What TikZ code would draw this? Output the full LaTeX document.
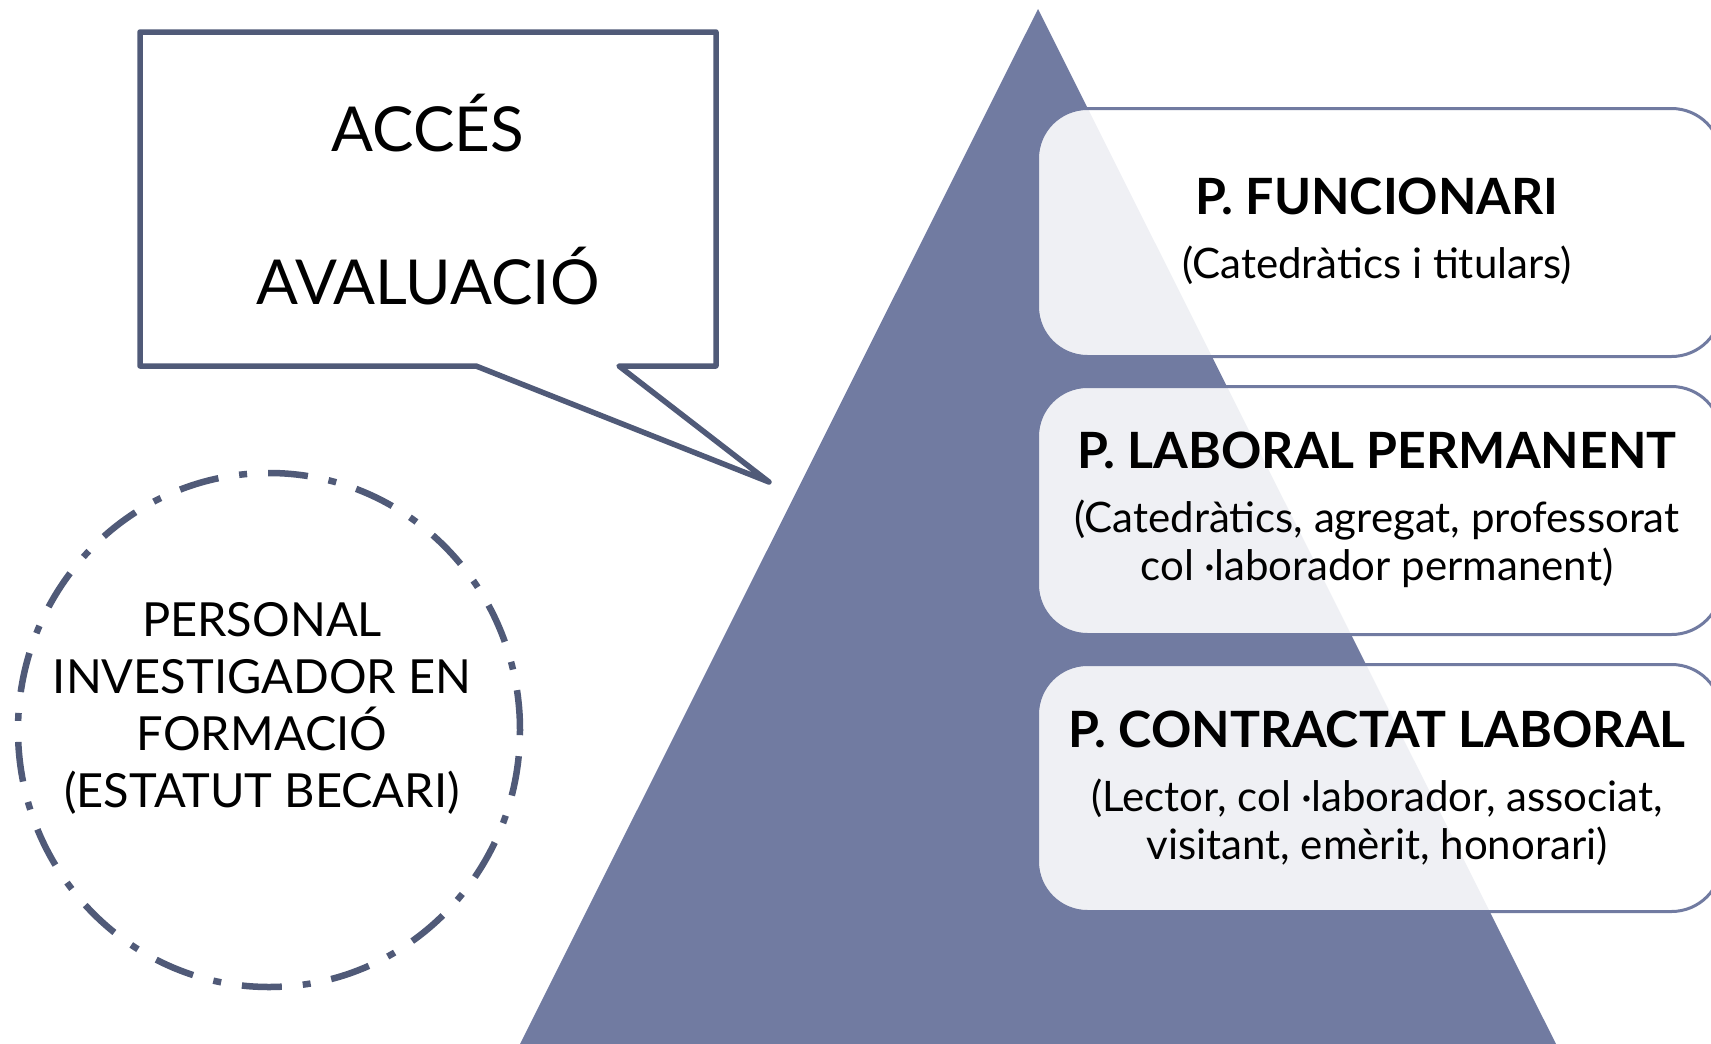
\documentclass[tikz,border=0pt]{standalone}
\usepackage{fontspec}
\setmainfont{Lato}
\usetikzlibrary{shapes.geometric}
\definecolor{tri}{HTML}{717BA1}
\definecolor{dark}{HTML}{505A78}
\newcommand\leveltitlefont{\bfseries\fontsize{50}{48}\selectfont}
\tikzset{
  callout/.style={draw=dark, line width=5.5pt, line join=round, fill=white},
  calltext/.style={font=\fontsize{62}{70}\selectfont, inner sep=0pt, text=black},
  dashcirc/.style={draw=dark, line width=6.5pt, shape=ellipse, inner sep=0pt,
     dash pattern=on 40pt off 21pt on 8pt off 21pt},
  circtext/.style={font=\fontsize{47}{57}\selectfont, align=center, inner sep=0pt},
  levelbox/.style={draw=tri, line width=3pt, fill=white, fill opacity=0.89, text opacity=1,
     rounded corners=50pt, minimum width=684pt, anchor=north west, inner sep=0pt},
  leveltext/.style={align=center, inner sep=0pt, font=\fontsize{42}{48}\selectfont}
}
\begin{document}
\begin{tikzpicture}[x=1pt,y=-1pt]
\useasboundingbox (0,0) rectangle (1711,1044);
\clip (0,0) rectangle (1711,1044);
% pyramid
\fill[tri] (1038,9) coordinate (apex) -- (520,1044) coordinate (bl) -- (1556,1044) coordinate (br) -- cycle;
% callout
\draw[callout] (140,32) -- (716,32) -- (716,366) -- (619,366) -- (769,482) coordinate (tip) -- (476,366) -- (140,366) -- cycle;
\node[calltext] (acces) at (428,123) {ACCÉS};
\node[calltext] (aval) at (428,276) {AVALUACIÓ};
% dashed circle
\node[dashcirc, minimum width=502pt, minimum height=514pt] (circ) at (269,730) {};
\node[circtext] (ctext) at (262,708) {PERSONAL\\INVESTIGADOR EN\\FORMACIÓ\\(ESTATUT BECARI)};
% level boxes
\node[levelbox, minimum height=248pt] (b1) at (1036,107) {};
\node[levelbox, minimum height=248pt] (b2) at (1036,385) {};
\node[levelbox, minimum height=247pt] (b3) at (1036,663) {};
\node[leveltext] (t1) at (1377,231) {{\leveltitlefont P. FUNCIONARI}\\[16pt](Catedràtics i titulars)};
\node[leveltext] (t2) at (1377,510) {{\leveltitlefont P. LABORAL PERMANENT}\\[16pt](Catedràtics, agregat, professorat\\col ·laborador permanent)};
\node[leveltext] (t3) at (1377,788) {{\leveltitlefont P. CONTRACTAT LABORAL}\\[16pt](Lector, col ·laborador, associat,\\visitant, emèrit, honorari)};
\end{tikzpicture}
\end{document}
